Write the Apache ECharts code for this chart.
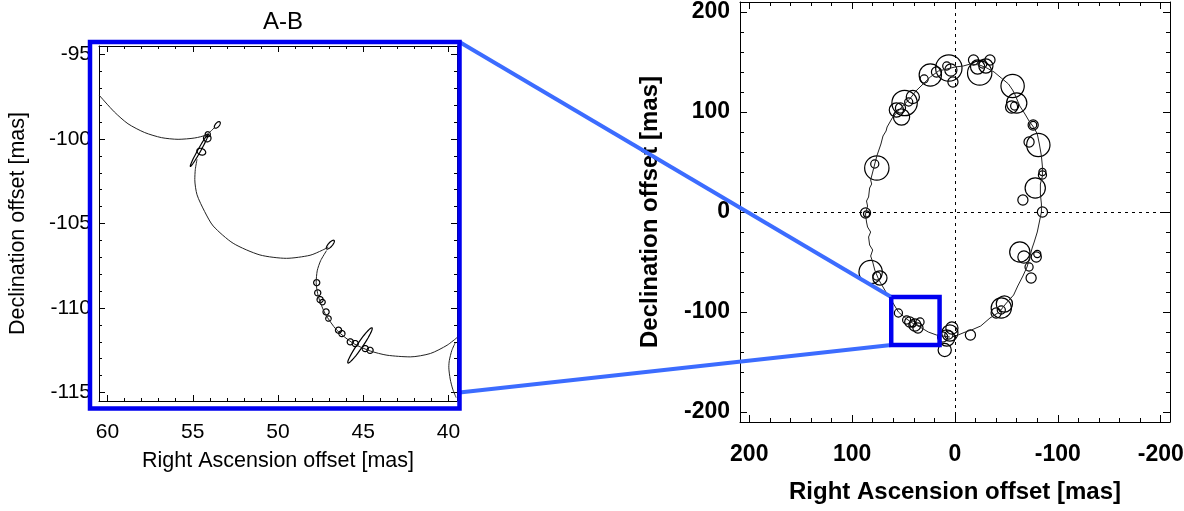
<!DOCTYPE html>
<html>
<head>
<meta charset="utf-8">
<title>A-B orbit</title>
<script src="https://cdn.jsdelivr.net/npm/echarts@6/dist/echarts.min.js"></script>
<style>
html, body { margin: 0; padding: 0; background: #fff; }
#chart { width: 1184px; height: 511px; }
</style>
</head>
<body>
<div id="chart"></div>
<script>
// ---- tick values ----
const leftRaTicks = [60, 55, 50, 45, 40]
const leftRaMinor = [40, 41, 42, 43, 44, 45, 46, 47, 48, 49, 50, 51, 52, 53, 54, 55, 56, 57, 58, 59, 60]
const leftDecTicks = [-95, -100, -105, -110, -115]
const leftDecMinor = [-115, -114, -113, -112, -111, -110, -109, -108, -107, -106, -105, -104, -103, -102, -101, -100, -99, -98, -97, -96, -95]
const rightTicks = [-200, -100, 0, 100, 200]
const rightMinor = [-200, -180, -160, -140, -120, -100, -80, -60, -40, -20, 0, 20, 40, 60, 80, 100, 120, 140, 160, 180, 200]

// ---- zoomed panel (A-B): path arcs [RA, Dec] ----
const arc1 = [[60.5, -97.4], [59.6, -98.4], [58.8, -99.1], [57.82, -99.62], [56.84, -99.92], [55.86, -100.02], [54.88, -99.94], [54.2, -99.75], [53.7, -99.3]]
const arc2 = [[54.75, -101.2], [54.85, -101.8], [54.88, -102.4], [54.75, -103.3], [54.3, -104.3], [53.8, -105.15], [52.63, -106.17], [51.06, -106.86], [49.5, -107.06], [48.12, -106.88], [47.4, -106.58], [47.05, -106.4]]
const arc3 = [[47.15, -106.6], [47.5, -107.2], [47.7, -107.8], [47.76, -108.5], [47.63, -109.33], [47.24, -110.32], [46.55, -111.31], [45.57, -112.1], [44.59, -112.54], [43.61, -112.79], [42.24, -112.89], [41.06, -112.69], [40.08, -112.2], [39.5, -111.75]]
const arc4 = [[39.6, -112.05], [39.8, -112.5], [39.95, -113.1], [39.98, -113.5], [39.9, -114.2], [39.75, -114.8], [39.55, -115.3]]
// error ellipses [RA, Dec, half-major dRA, half-major dDec, minor/major]
const leftEllipses = [
    [54.62, -100.68, -0.52, 0.94, 0.08],
    [53.56, -99.17, -0.15, 0.18, 0.5],
    [54.15, -99.95, 0.22, 0, 1],
    [54.12, -99.72, 0.15, 0, 1],
    [54.5, -100.75, 0.25, 0.1, 0.7],
    [46.93, -106.25, -0.22, 0.25, 0.35],
    [45.19, -112.21, -0.706, 1.04, 0.13],
    [47.73, -108.5, 0.18, 0, 1],
    [47.67, -109.1, 0.18, 0, 1],
    [47.53, -109.5, 0.18, 0, 1],
    [47.39, -109.65, 0.16, 0, 1],
    [47.18, -110.23, 0.18, 0, 1],
    [47.04, -110.62, 0.16, 0, 1],
    [46.45, -111.31, 0.18, 0, 1],
    [46.25, -111.51, 0.18, 0, 1],
    [45.76, -112.0, 0.18, 0, 1],
    [45.47, -112.1, 0.18, 0, 1],
    [44.88, -112.4, 0.18, 0, 1],
    [44.6, -112.5, 0.18, 0, 1]
]

// ---- full orbit panel: path [RA, Dec] ----
const orbitPath = [
    [5, -125], [12, -124], [18, -123], [26, -120], [34, -115], [40, -112], [47, -107], [55, -100], [62, -88],
    [66, -82], [70, -75], [74, -68], [78, -58], [80, -50], [82, -44], [80, -38], [83, -33], [84, -25], [82, -20],
    [85, -15], [86, -10], [87, -2], [85, 6], [86, 11], [84, 15], [83, 24], [81, 28], [82, 32], [80, 40], [78, 48], [76, 56],
    [74, 62], [72, 68], [70, 76], [67, 81], [66, 85], [61, 94], [56, 100], [50, 107], [44, 113], [38, 121],
    [30, 129], [24, 135], [16, 141], [8, 143], [0, 145], [-8, 146], [-15, 148], [-24, 147], [-31, 144],
    [-38, 140], [-45, 134], [-52, 128], [-56, 122], [-58, 118], [-63, 106], [-68, 98], [-72, 91], [-77, 84],
    [-80, 78], [-82, 68], [-84, 56], [-85, 45], [-85, 36], [-83, 28], [-83, 18], [-84, 8], [-84, 0],
    [-82, -10], [-80, -20], [-77, -30], [-75, -36], [-74, -40], [-72, -48], [-70, -55], [-66, -64], [-61, -74],
    [-57, -83], [-50, -91], [-43, -100], [-34, -106], [-25, -114], [-16, -118], [-10, -120], [-3, -123], [3, -125]
]
// error circles [RA, Dec, radius]
const orbitCircles = [
    [87, -1, 5], [86, -2, 3],
    [76, 44, 12], [78, 48, 4],
    [82, -60, 11.5], [73, -66, 7], [76, -64, 4],
    [49, 109, 12.5], [57, 102, 7], [41, 115, 6.5], [52, 95, 8], [45, 110, 4], [53, 104, 5],
    [24, 137, 11], [18, 140, 5], [30, 133, 4],
    [6, 144, 13], [4, 142, 6], [2, 130, 5], [8, 146, 4],
    [-18, 152, 5], [-34, 152, 5], [-24, 139, 12], [-22, 145, 7], [-30, 146, 7], [-27, 148, 4],
    [-56, 126, 11.5], [-60, 109, 10], [-55, 105, 6], [-58, 106, 4],
    [-76, 87, 5], [-76, 87, 3.5],
    [-81, 67, 11.5], [-72, 70, 5],
    [-85, 37, 4], [-85, 40, 3.5], [-78, 24, 10], [-66, 12, 5], [-85, 0, 5],
    [-63, -40, 10], [-79, -45, 5], [-72, -55, 4], [-74, -66, 5], [-67, -45, 6], [-80, -42, 3.5],
    [-45, -96, 10], [-40, -101, 5], [-48, -92, 8], [-45, -98, 4],
    [5, -121, 8], [8, -126, 8], [10, -138, 6.5], [3, -116, 6], [-15, -123, 5], [12, -125, 5], [6, -123, 4],
    [55, -101, 4], [44, -110, 5], [39, -113, 6], [36, -116, 5], [34, -110, 4], [47, -108, 4], [41, -112, 3]
]
// zoom box on the full orbit [RA], [Dec]
const boxRa = [62, 15]
const boxDec = [-85, -133]

// ---- axis extents ----
const leftRaRange = [39.5, 60.5]
const leftDecRange = [-115.5, -94.5]
const rightRaRange = [-209, 209]
const rightDecRange = [-210, 210]

const FONT = '"Liberation Sans", Arial, sans-serif'

// one main axis + minor tick axis + mirrored pair on the other side
const makeAxes = (grid, dim, range, majors, minors, style) => {
    const sides = dim === 'x' ? ['bottom', 'top'] : ['left', 'right']
    const base = {
        type: 'value', gridIndex: grid, min: range[0], max: range[1],
        inverse: dim === 'x', splitLine: { show: false },
        axisLine: { show: false, onZero: false }
    }
    const tick = (vals, len) => ({
        show: true, inside: true, length: len, customValues: vals,
        lineStyle: { color: '#000', width: 1 }
    })
    return [
        Object.assign({}, base, {
            position: sides[0],
            axisLine: { show: true, onZero: false, lineStyle: { color: '#000', width: 1 } },
            axisTick: tick(majors, style.major),
            axisLabel: {
                show: true, customValues: majors, margin: style.margin,
                color: '#000', fontFamily: FONT, fontSize: style.fontSize, fontWeight: style.weight
            },
            name: dim === 'x' ? 'Right Ascension offset [mas]' : 'Declination offset [mas]',
            nameLocation: 'middle',
            nameGap: style.nameGap,
            nameTextStyle: { color: '#000', fontFamily: FONT, fontSize: style.nameSize, fontWeight: style.weight }
        }),
        Object.assign({}, base, {
            position: sides[0], axisTick: tick(minors, style.minor), axisLabel: { show: false }
        }),
        Object.assign({}, base, {
            position: sides[1],
            axisLine: { show: true, onZero: false, lineStyle: { color: '#000', width: 1 } },
            axisTick: tick(majors, style.major), axisLabel: { show: false }
        }),
        Object.assign({}, base, {
            position: sides[1], axisTick: tick(minors, style.minor), axisLabel: { show: false }
        })
    ]
}

const leftXStyle = { major: 6, minor: 3, margin: 21, fontSize: 21, weight: 'normal', nameGap: 49, nameSize: 21.5 }
const leftYStyle = { major: 6, minor: 3, margin: 8, fontSize: 21, weight: 'normal', nameGap: 70, nameSize: 21.5 }
const rightXStyle = { major: 7, minor: 4, margin: 21, fontSize: 23, weight: 'bold', nameGap: 58, nameSize: 24 }
const rightYStyle = { major: 7, minor: 4, margin: 10, fontSize: 23, weight: 'bold', nameGap: 78, nameSize: 24 }

const xAxes = makeAxes(0, 'x', leftRaRange, leftRaTicks, leftRaMinor, leftXStyle)
    .concat(makeAxes(1, 'x', rightRaRange, rightTicks, rightMinor, rightXStyle))
const yAxes = makeAxes(0, 'y', leftDecRange, leftDecTicks, leftDecMinor, leftYStyle)
    .concat(makeAxes(1, 'y', rightDecRange, rightTicks, rightMinor, rightYStyle))

// ellipse drawn through the axes' scales
const renderEllipse = (params, api) => {
    const cx = api.value(0), cy = api.value(1)
    const ux = api.value(2), uy = api.value(3), k = api.value(4)
    const pts = []
    for (let i = 0; i < 48; i++) {
        const t = i / 48 * Math.PI * 2
        const c = Math.cos(t), s = Math.sin(t)
        pts.push(api.coord([cx + ux * c - uy * k * s, cy + uy * c + ux * k * s]))
    }
    return {
        type: 'polygon', shape: { points: pts },
        style: { fill: 'none', stroke: '#000', lineWidth: 1.2 }
    }
}
const renderCircle = (params, api) => {
    const p = api.coord([api.value(0), api.value(1)])
    const r = api.size([api.value(2), api.value(2)])
    return {
        type: 'circle', shape: { cx: p[0], cy: p[1], r: (r[0] + r[1]) / 2 },
        style: { fill: 'none', stroke: '#000', lineWidth: 1.2 }
    }
}

const arcSeries = (data) => ({
    type: 'line', xAxisIndex: 0, yAxisIndex: 0, data: data,
    smooth: 0.25, showSymbol: false, silent: true,
    lineStyle: { color: '#222', width: 1 }
})

const chart = echarts.init(document.getElementById('chart'), null, { renderer: 'canvas' })
const option = {
    animation: false,
    backgroundColor: '#fff',
    title: {
        text: 'A-B', left: 278, top: 5, textAlign: 'center',
        textStyle: { color: '#000', fontFamily: FONT, fontSize: 24, fontWeight: 'normal' }
    },
    grid: [
        { left: 99, top: 46, width: 358, height: 355, outerBoundsMode: 'none' },
        { left: 740, top: 2, width: 430, height: 420, outerBoundsMode: 'none' }
    ],
    xAxis: xAxes,
    yAxis: yAxes,
    series: [
        arcSeries(arc1),
        arcSeries(arc2),
        arcSeries(arc3),
        arcSeries(arc4),
        {
            type: 'custom', xAxisIndex: 0, yAxisIndex: 0, data: leftEllipses,
            renderItem: renderEllipse, encode: { x: 0, y: 1 }, clip: true, silent: true
        },
        {
            type: 'line', xAxisIndex: 4, yAxisIndex: 4, data: orbitPath,
            showSymbol: false, silent: true,
            lineStyle: { color: '#222', width: 1 },
            markLine: {
                silent: true, symbol: ['none', 'none'], label: { show: false },
                lineStyle: { color: '#000', width: 1, type: [3, 4] },
                data: [{ xAxis: 0 }, { yAxis: 0 }]
            }
        },
        {
            type: 'custom', xAxisIndex: 4, yAxisIndex: 4, data: orbitCircles,
            renderItem: renderCircle, encode: { x: 0, y: 1 }, clip: true, silent: true
        },
        {
            type: 'line', xAxisIndex: 4, yAxisIndex: 4, z: 60, silent: true,
            data: [
                [boxRa[0], boxDec[0]], [boxRa[1], boxDec[0]], [boxRa[1], boxDec[1]],
                [boxRa[0], boxDec[1]], [boxRa[0], boxDec[0]]
            ],
            showSymbol: false,
            lineStyle: { color: '#0000f0', width: 4.5, join: 'miter' }
        }
    ]
}
chart.setOption(option)

// blue frame around the zoomed panel and the connecting lines
const drawZoomGuides = () => {
    const tl = chart.convertToPixel({ seriesIndex: 0 }, [leftRaRange[1], leftDecRange[1]])
    const br = chart.convertToPixel({ seriesIndex: 0 }, [leftRaRange[0], leftDecRange[0]])
    const low = chart.convertToPixel({ seriesIndex: 0 }, [leftRaRange[0], leftDecTicks[4]])
    const boxTop = chart.convertToPixel({ seriesIndex: 7 }, [boxRa[0], boxDec[0]])
    const boxLow = chart.convertToPixel({ seriesIndex: 7 }, [boxRa[0], boxDec[1]])
    const fx = tl[0] - 9, fy = tl[1] - 4
    const fr = br[0] + 2.5, fb = br[1] + 7.5
    chart.setOption({
        graphic: [
            {
                type: 'line', z: 50, silent: true,
                shape: { x1: fr, y1: fy, x2: boxTop[0], y2: boxTop[1] },
                style: { stroke: '#3c6cff', lineWidth: 4 }
            },
            {
                type: 'line', z: 50, silent: true,
                shape: { x1: fr, y1: low[1], x2: boxLow[0], y2: boxLow[1] },
                style: { stroke: '#3c6cff', lineWidth: 4 }
            },
            {
                type: 'rect', z: 100, silent: true,
                shape: { x: fx, y: fy, width: fr - fx, height: fb - fy },
                style: { fill: 'none', stroke: '#0000f0', lineWidth: 4.5 }
            }
        ]
    })
}
drawZoomGuides()
</script>
</body>
</html>
